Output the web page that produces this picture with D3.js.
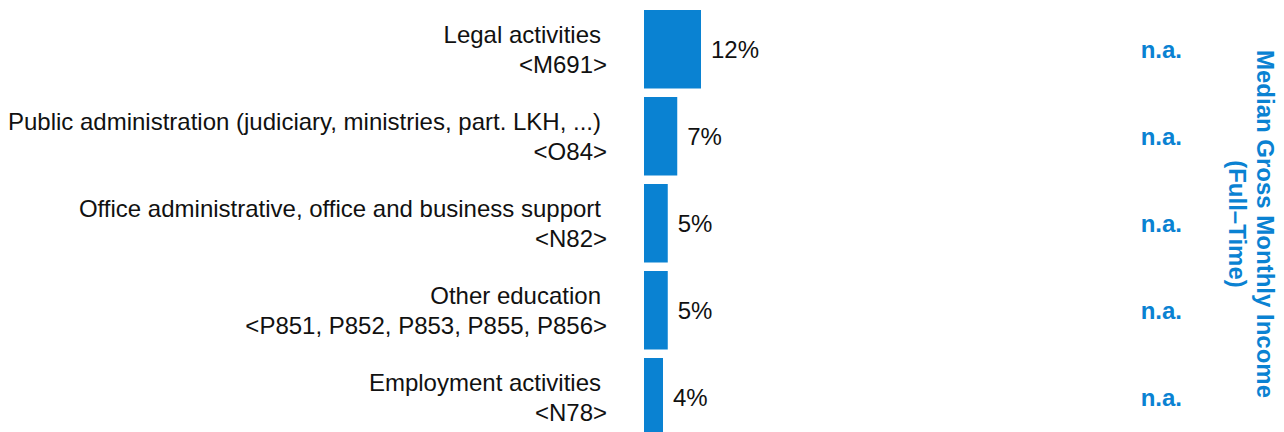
<!DOCTYPE html>
<html>
<head>
<meta charset="utf-8">
<script src="https://cdn.jsdelivr.net/npm/d3@7"></script>
<style>
  body { margin: 0; background: #fff; }
  text { font-family: "Liberation Sans", Arial, sans-serif; }
</style>
</head>
<body>
<svg id="chart" width="1284" height="432"></svg>
<script>
// data
var names = [
  "Legal activities",
  "Public administration (judiciary, ministries, part. LKH, ...)",
  "Office administrative, office and business support",
  "Other education",
  "Employment activities"
];
var codes = ["<M691>", "<O84>", "<N82>", "<P851, P852, P853, P855, P856>", "<N78>"];
var shares = [12, 7, 5, 5, 4];
var incomes = ["n.a.", "n.a.", "n.a.", "n.a.", "n.a."];
var titleLines = ["Median Gross Monthly Income", "(Full\u2013Time)"];

var blue = "#0a82d2";
var svg = d3.select("#chart");

var y = d3.scaleBand()
  .domain(d3.range(names.length))
  .range([10, 436.5])
  .paddingInner(0.0977)
  .paddingOuter(0);

var x = d3.scaleLinear().domain([0, 12]).range([644, 701]);

var rows = svg.selectAll("g.row")
  .data(names)
  .enter().append("g")
  .attr("class", "row");

rows.append("rect")
  .attr("x", x(0))
  .attr("y", (d, i) => y(i))
  .attr("width", (d, i) => x(shares[i]) - x(0))
  .attr("height", y.bandwidth())
  .attr("fill", blue);

var mid = i => y(i) + y.bandwidth() / 2;

rows.append("text")
  .attr("x", 601)
  .attr("y", (d, i) => mid(i) - 6)
  .attr("text-anchor", "end")
  .attr("font-size", 24)
  .attr("fill", "#111")
  .text(d => d);

rows.append("text")
  .attr("x", 607)
  .attr("y", (d, i) => mid(i) + 24)
  .attr("text-anchor", "end")
  .attr("font-size", 24)
  .attr("fill", "#111")
  .text((d, i) => codes[i]);

rows.append("text")
  .attr("x", (d, i) => x(shares[i]) + 10)
  .attr("y", (d, i) => mid(i) + 9)
  .attr("font-size", 24)
  .attr("fill", "#111")
  .text((d, i) => shares[i] + "%");

rows.append("text")
  .attr("x", 1182)
  .attr("y", (d, i) => mid(i) + 9)
  .attr("text-anchor", "end")
  .attr("font-size", 24)
  .attr("font-weight", "bold")
  .attr("fill", blue)
  .text((d, i) => incomes[i]);

var title = svg.append("text")
  .attr("transform", "translate(1257,224) rotate(90)")
  .attr("text-anchor", "middle")
  .attr("font-size", 24)
  .attr("font-weight", "bold")
  .attr("fill", blue);

title.selectAll("tspan")
  .data(titleLines)
  .enter().append("tspan")
  .attr("x", 0)
  .attr("dy", (d, i) => i === 0 ? 0 : 28)
  .text(d => d);
</script>
</body>
</html>
